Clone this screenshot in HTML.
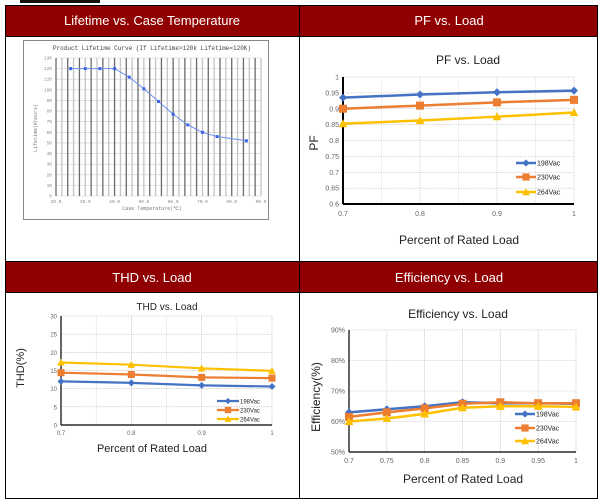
<!DOCTYPE html>
<html><head><meta charset="utf-8"><style>
html,body{margin:0;padding:0;background:#fff;width:602px;height:504px;overflow:hidden}
svg{display:block;font-family:"Liberation Sans",Arial,sans-serif}
</style></head><body>
<svg width="602" height="504" viewBox="0 0 602 504" xmlns="http://www.w3.org/2000/svg">
<rect x="20" y="0" width="80" height="3" fill="#111"/>
<!-- headers -->
<rect x="5" y="5" width="593" height="31" fill="#900000"/>
<rect x="5" y="262" width="593" height="30" fill="#900000"/>
<g fill="#fff" font-size="13" text-anchor="middle">
<text x="152" y="25">Lifetime vs. Case Temperature</text>
<text x="449" y="25">PF vs. Load</text>
<text x="152" y="282">THD vs. Load</text>
<text x="449" y="282">Efficiency vs. Load</text>
</g>
<g stroke="#000" stroke-width="1" fill="none">
<rect x="5.5" y="5.5" width="592" height="493"/>
<line x1="299.5" y1="5" x2="299.5" y2="499"/>
<line x1="5" y1="36.5" x2="598" y2="36.5"/>
<line x1="5" y1="261.5" x2="598" y2="261.5"/>
<line x1="5" y1="292.5" x2="598" y2="292.5"/>
</g>

<!-- Lifetime chart -->
<rect x="23.5" y="40.5" width="245" height="179" fill="#fff" stroke="#888"/>
<text x="152" y="50" font-size="6" font-family="Liberation Mono,monospace" text-anchor="middle" fill="#444">Product Lifetime Curve (If Lifetime&gt;120k Lifetime=120K)</text>
<g id="lt"></g>
<g font-size="4.5" font-family="Liberation Mono,monospace" fill="#777">
<text x="152" y="210" text-anchor="middle" font-size="5">Case Temperature(℃)</text>
<text x="37" y="128" transform="rotate(-90 37 128)" text-anchor="middle" font-size="5">Lifetime(Khours)</text>
</g>

<!-- PF chart -->
<g id="pf"></g>
<text x="468" y="64" font-size="12" text-anchor="middle" fill="#222">PF vs. Load</text>
<text x="459" y="244" font-size="12" text-anchor="middle" fill="#222">Percent of Rated Load</text>
<text x="318" y="143" font-size="12" text-anchor="middle" fill="#222" transform="rotate(-90 318 143)">PF</text>

<!-- THD chart -->
<g id="thd"></g>
<text x="167" y="310" font-size="10" text-anchor="middle" fill="#222">THD vs. Load</text>
<text x="152" y="452" font-size="11" text-anchor="middle" fill="#222">Percent of Rated Load</text>
<text x="24" y="368" font-size="11" text-anchor="middle" fill="#222" transform="rotate(-90 24 368)">THD(%)</text>

<!-- Efficiency chart -->
<g id="eff"></g>
<text x="458" y="318" font-size="12" text-anchor="middle" fill="#222">Efficiency vs. Load</text>
<text x="463" y="483" font-size="12" text-anchor="middle" fill="#222">Percent of  Rated Load</text>
<text x="320" y="397" font-size="12" text-anchor="middle" fill="#222" transform="rotate(-90 320 397)">Efficiency(%)</text>
</svg>
<script>
var NS="http://www.w3.org/2000/svg";
function el(p,t,a,txt){var e=document.createElementNS(NS,t);for(var k in a)e.setAttribute(k,a[k]);if(txt!=null)e.textContent=txt;p.appendChild(e);return e;}
// Lifetime
(function(){var g=document.getElementById('lt');var x0=56,x1=261,y0=196,y1=58;
function X(v){return x0+(v-20)/70*(x1-x0);}function Y(v){return y0-(v)/130*(y0-y1);}
for(var i=0;i<=13;i++){el(g,'line',{x1:x0,x2:x1,y1:Y(i*10),y2:Y(i*10),stroke:'#ccc','stroke-width':0.6});
el(g,'text',{x:x0-4,y:Y(i*10)+1.5,'font-size':4.5,'text-anchor':'end',fill:'#888','font-family':'Liberation Mono,monospace'},i*10);}
for(var v=20,k=0;v<=90;v+=2,k++){el(g,'line',{x1:X(v),x2:X(v),y1:y1,y2:y0,stroke:k%2?'#c4c4c4':'#6a6a6a','stroke-width':1.3});}
for(var v=20;v<=90;v+=10)el(g,'text',{x:X(v),y:y0+7,'font-size':4.5,'text-anchor':'middle',fill:'#888','font-family':'Liberation Mono,monospace'},v.toFixed(1));
var d=[[25,120],[30,120],[35,120],[40,120],[45,112],[50,101],[55,89],[60,77],[65,67],[70,60],[75,56],[85,52]];
el(g,'polyline',{points:d.map(function(p){return X(p[0])+','+Y(p[1])}).join(' '),fill:'none',stroke:'#6a8ef0','stroke-width':1});
d.forEach(function(p){el(g,'rect',{x:X(p[0])-1.5,y:Y(p[1])-1.5,width:3,height:3,fill:'#3a66e8'});});})();

var COL=['#4472c4','#ed7d31','#ffc000'];
function marker(g,i,x,y,s){if(i==0)el(g,'polygon',{points:(x)+','+(y-s)+' '+(x+s)+','+y+' '+x+','+(y+s)+' '+(x-s)+','+y,fill:COL[0]});
else if(i==1)el(g,'rect',{x:x-s,y:y-s,width:2*s,height:2*s,fill:COL[1]});
else el(g,'polygon',{points:x+','+(y-s*1.1)+' '+(x+s*1.1)+','+(y+s*0.9)+' '+(x-s*1.1)+','+(y+s*0.9),fill:COL[2]});}
function chart(id,o){var g=document.getElementById(id);
function X(v){return o.x0+(v-o.xmin)/(o.xmax-o.xmin)*(o.x1-o.x0);}function Y(v){return o.y0-(v-o.ymin)/(o.ymax-o.ymin)*(o.y0-o.y1);}
o.xt.forEach(function(v){el(g,'line',{x1:X(v),x2:X(v),y1:o.y1,y2:o.y0,stroke:'#bbb','stroke-width':0.6,'stroke-dasharray':'1.5,1'});
el(g,'text',{x:X(v),y:o.y0+o.xl,'font-size':o.fs,'text-anchor':'middle',fill:'#666'},o.xf(v));});
if(o.minor)o.minor.forEach(function(v){el(g,'line',{x1:X(v),x2:X(v),y1:o.y1,y2:o.y0,stroke:'#e4e4e4','stroke-width':0.6});});
o.yt.forEach(function(v){el(g,'line',{x1:o.x0,x2:o.x1,y1:Y(v),y2:Y(v),stroke:'#bbb','stroke-width':0.6,'stroke-dasharray':'1.5,1'});
el(g,'text',{x:o.x0-4,y:Y(v)+2.5,'font-size':o.fs,'text-anchor':'end',fill:'#666'},o.yf(v));});
el(g,'line',{x1:o.x0,x2:o.x0,y1:o.y1,y2:o.y0,stroke:'#000','stroke-width':o.aw});
el(g,'line',{x1:o.x0,x2:o.x1,y1:o.y0,y2:o.y0,stroke:'#000','stroke-width':o.aw});
o.data.forEach(function(s,i){el(g,'polyline',{points:s.map(function(v,j){return X(o.xs[j])+','+Y(v)}).join(' '),fill:'none',stroke:COL[i],'stroke-width':o.lw});
s.forEach(function(v,j){marker(g,i,X(o.xs[j]),Y(v),o.ms);});});
['198Vac','230Vac','264Vac'].forEach(function(t,i){var y=o.ly[i];el(g,'line',{x1:o.lx,x2:o.lx+o.lwid,y1:y,y2:y,stroke:COL[i],'stroke-width':o.lw});
marker(g,i,o.lx+o.lwid/2,y,o.ms*0.9);el(g,'text',{x:o.lx+o.lwid+1,y:y+2.5,'font-size':o.lfs,fill:'#222'},t);});}
chart('pf',{x0:343,x1:574,y0:204,y1:77,xmin:0.7,xmax:1,ymin:0.6,ymax:1,xt:[0.7,0.8,0.9,1],minor:[0.75,0.85,0.95],yt:[0.6,0.65,0.7,0.75,0.8,0.85,0.9,0.95,1],
xf:function(v){return v==1?'1':v.toFixed(1)},yf:function(v){return v==1?'1':(+v.toFixed(2)).toString()},fs:7,xl:12,aw:2,lw:2.5,ms:4,
xs:[0.7,0.8,0.9,1],data:[[0.935,0.945,0.952,0.957],[0.9,0.91,0.92,0.928],[0.853,0.863,0.875,0.888]],lx:516,lwid:20,ly:[163,177,192],lfs:7});
chart('thd',{x0:61,x1:272,y0:425,y1:316,xmin:0.7,xmax:1,ymin:0,ymax:30,xt:[0.7,0.8,0.9,1],minor:[0.75,0.85,0.95],yt:[0,5,10,15,20,25,30],
xf:function(v){return v==1?'1':v.toFixed(1)},yf:function(v){return v},fs:6,xl:10,aw:1.2,lw:2.2,ms:3.5,
xs:[0.7,0.8,0.9,1],data:[[12,11.6,10.9,10.6],[14.4,13.9,13.1,12.9],[17.2,16.6,15.6,14.9]],lx:217,lwid:22,ly:[401,410,419],lfs:6});
chart('eff',{x0:349,x1:576,y0:452,y1:330,xmin:0.7,xmax:1,ymin:50,ymax:90,xt:[0.7,0.75,0.8,0.85,0.9,0.95,1],yt:[50,60,70,80,90],
xf:function(v){return v==1?'1':(+v.toFixed(2)).toString()},yf:function(v){return v+'%'},fs:7,xl:11,aw:1.2,lw:2.5,ms:4,
xs:[0.7,0.75,0.8,0.85,0.9,0.95,1],data:[[63,64,65,66.3,66,66,65.8],[61.5,63,64.3,65.8,66.3,66,66],[60,61,62.5,64.5,65,65,64.8]],lx:515,lwid:20,ly:[414,428,441],lfs:7});
</script>
</body></html>
